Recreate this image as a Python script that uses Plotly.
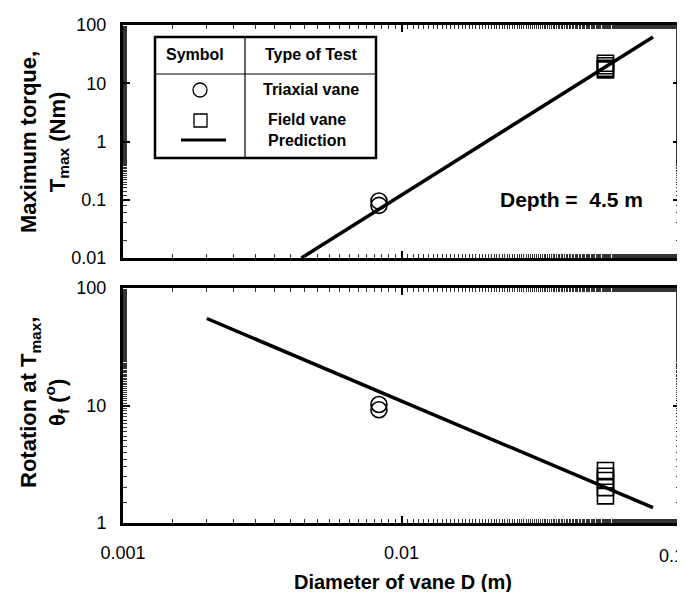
import plotly.graph_objects as go

# ---- data ----
D_tri = [0.0083, 0.0083]
T_tri = [0.095, 0.08]
D_field = [0.054, 0.054, 0.054, 0.054]
T_field = [22, 20, 18, 17]
D_pred_T = [0.00437, 0.08]
T_pred = [0.01, 62]

D_tri_th = [0.0083, 0.0083]
th_tri = [10.2, 9.2]
D_field_th = [0.054, 0.054, 0.054, 0.054, 0.054]
th_field = [2.8, 2.5, 2.3, 2.0, 1.7]
D_pred_th = [0.002, 0.08]
th_pred = [55, 1.35]

x_ticks = [0.001, 0.01, 0.1]
x_ticklabels = ["0.001", "0.01", "0.1"]
yT_ticks = [0.01, 0.1, 1, 10, 100]
yT_ticklabels = ["0.01", "0.1", "1", "10", "100"]
yth_ticks = [1, 10, 100]
yth_ticklabels = ["1", "10", "100"]

FONT = "Liberation Sans, Arial, sans-serif"
W, H = 685, 592
ML, MR, MT, MB = 115, 13, 17, 77
PW = W - ML - MR
PH = H - MT - MB

def px(x):
    return (x - ML) / PW

def py(y):
    return (H - MB - y) / PH

# last x label drawn as an axis-anchored annotation so it stays inside the page
x_ticktext = x_ticklabels[:-1] + [""]

fig = go.Figure()
mk = dict(size=16, color="black", line=dict(color="black", width=1.6))

fig.add_trace(go.Scatter(x=D_pred_T, y=T_pred, mode="lines", line=dict(color="black", width=3.5),
                         xaxis="x", yaxis="y", showlegend=False))
fig.add_trace(go.Scatter(x=D_tri, y=T_tri, mode="markers", marker=dict(symbol="circle-open", **mk),
                         xaxis="x", yaxis="y", showlegend=False))
fig.add_trace(go.Scatter(x=D_field, y=T_field, mode="markers", marker=dict(symbol="square-open", **mk),
                         xaxis="x", yaxis="y", showlegend=False))

fig.add_trace(go.Scatter(x=D_pred_th, y=th_pred, mode="lines", line=dict(color="black", width=3.5),
                         xaxis="x2", yaxis="y2", showlegend=False))
fig.add_trace(go.Scatter(x=D_tri_th, y=th_tri, mode="markers", marker=dict(symbol="circle-open", **mk),
                         xaxis="x2", yaxis="y2", showlegend=False))
fig.add_trace(go.Scatter(x=D_field_th, y=th_field, mode="markers", marker=dict(symbol="square-open", **mk),
                         xaxis="x2", yaxis="y2", showlegend=False))

ax_common = dict(type="log", showline=True, linecolor="black", linewidth=3, mirror="allticks",
                 ticks="inside", ticklen=7, tickwidth=1.5, tickcolor="black", showgrid=False,
                 zeroline=False, automargin=False, ticklabeloverflow="allow",
                 tickfont=dict(family=FONT, size=18, color="black"),
                 minor=dict(ticks="inside", ticklen=4, tickwidth=0.8, tickcolor="#333", showgrid=False))

top_dom = [py(250), 1.0]
bot_dom = [0.0, py(280)]

fig.update_layout(
    width=W, height=H, margin=dict(l=ML, r=MR, t=MT, b=MB, autoexpand=False),
    paper_bgcolor="white", plot_bgcolor="white",
    font=dict(family=FONT, color="black"),
    xaxis=dict(range=[-3, -1], domain=[0, 1], anchor="y", showticklabels=False,
               tickvals=x_ticks, **ax_common),
    yaxis=dict(range=[-2, 2], domain=top_dom, anchor="x", tickvals=yT_ticks, ticktext=yT_ticklabels,
               ticklabelstandoff=10, **ax_common),
    xaxis2=dict(range=[-3, -1], domain=[0, 1], anchor="y2", tickvals=x_ticks, ticktext=x_ticktext,
                ticklabelstandoff=11, **ax_common),
    yaxis2=dict(range=[0, 2], domain=bot_dom, anchor="x2", tickvals=yth_ticks, ticktext=yth_ticklabels,
                ticklabelstandoff=10, **ax_common),
)

shapes = []
# legend table
shapes.append(dict(type="rect", xref="paper", yref="paper", x0=px(147), x1=px(368), y0=py(150), y1=py(29),
                   line=dict(color="black", width=2.5), fillcolor="white", layer="above"))
shapes.append(dict(type="line", xref="paper", yref="paper", x0=px(237), x1=px(237), y0=py(150), y1=py(29),
                   line=dict(color="black", width=1.2)))
shapes.append(dict(type="line", xref="paper", yref="paper", x0=px(147), x1=px(368), y0=py(66), y1=py(66),
                   line=dict(color="black", width=1.2)))
shapes.append(dict(type="circle", xref="paper", yref="paper", x0=px(185), x1=px(199), y0=py(89), y1=py(75),
                   line=dict(color="black", width=1.3)))
shapes.append(dict(type="rect", xref="paper", yref="paper", x0=px(186), x1=px(199), y0=py(119), y1=py(106),
                   line=dict(color="black", width=1.3)))
shapes.append(dict(type="line", xref="paper", yref="paper", x0=px(173), x1=px(218), y0=py(132), y1=py(132),
                   line=dict(color="black", width=3)))
fig.update_layout(shapes=shapes)

ann = []
def add_text(x, y, t, size=16, bold=True, angle=0):
    ann.append(dict(x=x, y=y, xref="paper", yref="paper", text=(f"<b>{t}</b>" if bold else t),
                    showarrow=False, textangle=angle, xanchor="center", yanchor="middle",
                    font=dict(family=FONT, size=size, color="black")))

add_text(px(187), py(47), "Symbol")
add_text(px(303), py(47), "Type of Test")
add_text(px(303), py(82), "Triaxial vane")
add_text(px(299), py(111), "Field vane")
add_text(px(299), py(132), "Prediction")
add_text(px(563), py(191), "Depth =  4.5 m", size=21)

add_text(px(36), py(134), "Maximum torque,<br>T<sub>max</sub> (Nm)", size=22, angle=-90)
add_text(px(36), py(395), "Rotation at T<sub>max</sub>,<br>θ<sub>f</sub> (<sup>o</sup>)", size=22, angle=-90)
add_text(px(395), py(574), "Diameter of vane D (m)", size=20)

# right-most x tick label, placed at the axis value 0.1 (log axis -> log10 value)
ann.append(dict(x=-1, y=py(548), xref="x2", yref="paper", text=x_ticklabels[-1], showarrow=False,
                xanchor="right", yanchor="middle", xshift=6,
                font=dict(family=FONT, size=18, color="black")))
fig.update_layout(annotations=ann)

fig.write_html("out.html")
